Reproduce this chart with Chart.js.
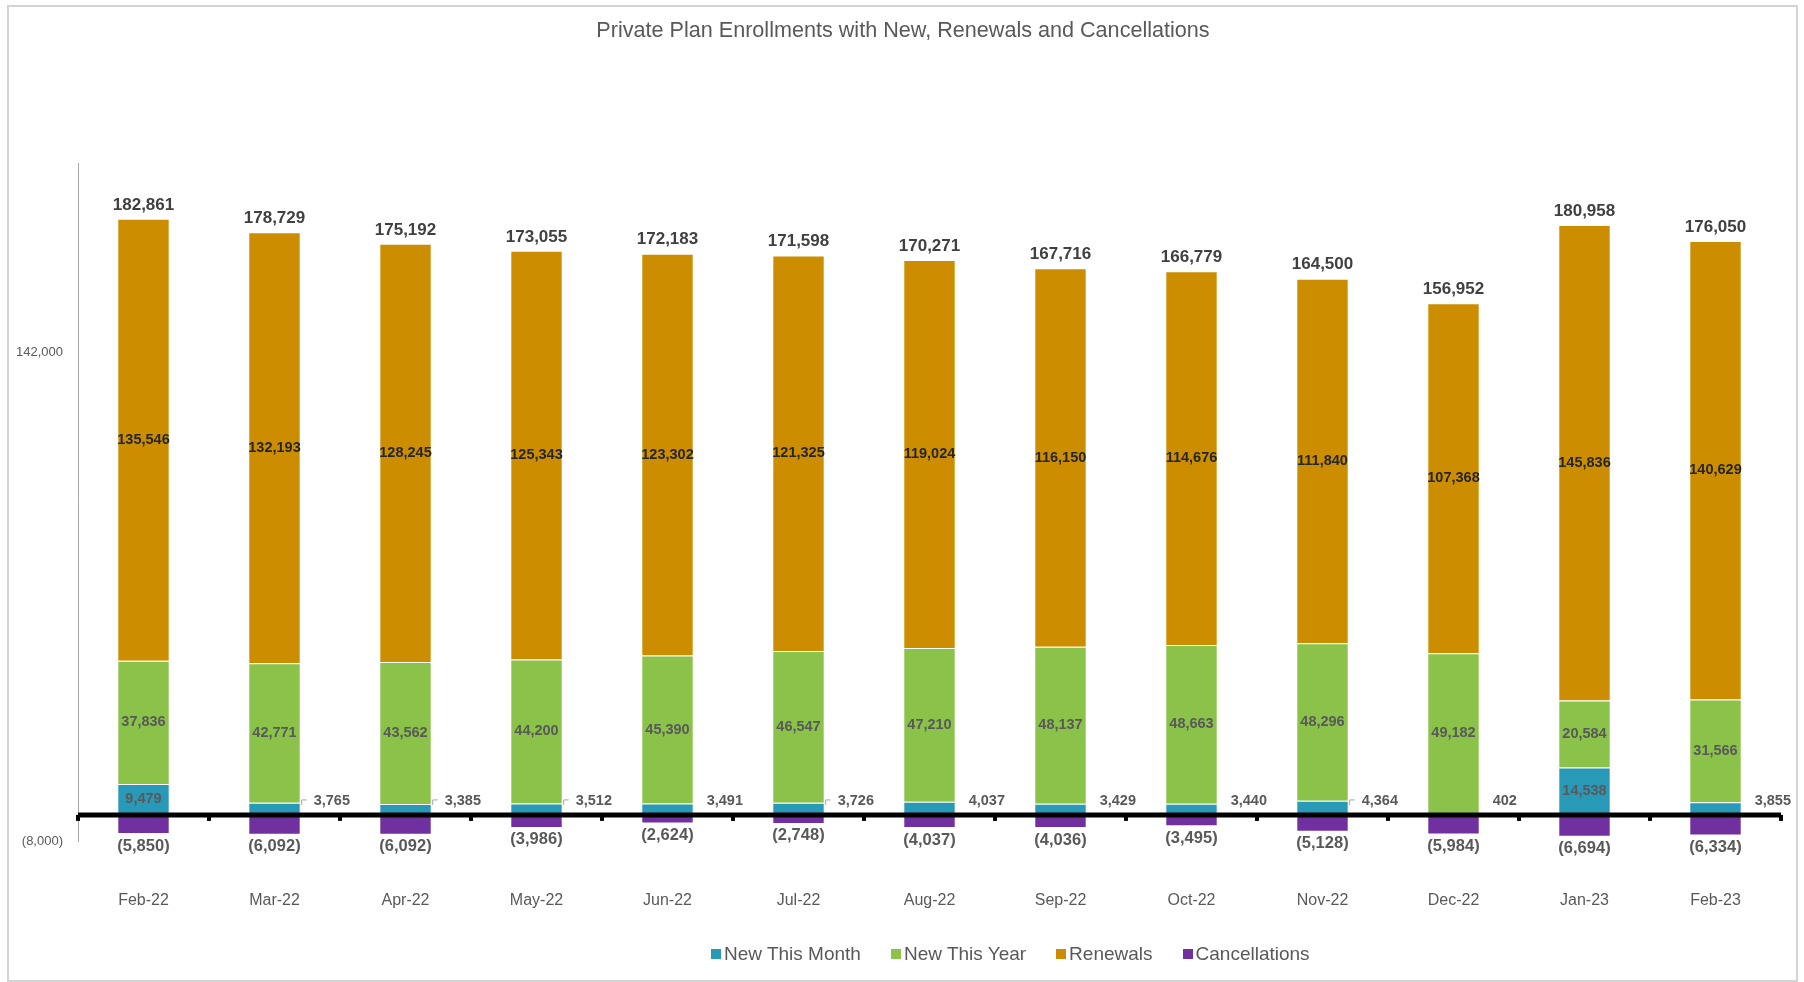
<!DOCTYPE html>
<html lang="en">
<head>
    <meta charset="UTF-8">
    <title>Private Plan Enrollments</title>
    <script src="https://cdn.jsdelivr.net/npm/chart.js"></script>
    <style>
        body { margin: 0; background: #fff; }
        .moldura { position: absolute; left: 7px; top: 5px; width: 1787px; height: 973px; border: 2px solid #d4d4d4; }
        .grafico { position: absolute; left: 0; top: 0; width: 1804px; height: 982px; }
        .titulografico { position: absolute; top: 17px; left: 0; width: 1806px; margin: 0; text-align: center;
                         font: normal 21.6px/25px "Liberation Sans", Arial, sans-serif; color: #595959; }
        #legenda { position: absolute; top: 943px; left: 711px; display: flex; align-items: center;
                   font: 19px "Liberation Sans", Arial, sans-serif; color: #595959; }
        #legenda .item { display: flex; align-items: center; margin-right: 30px; }
        #legenda .caixa { width: 10px; height: 10px; margin-right: 3px; }
    </style>
</head>
<body>
    <div class="moldura"></div>
    <div class="grafico">
        <canvas id="myChart" width="1804" height="982"></canvas>
    </div>
    <h1 class="titulografico">Private Plan Enrollments with New, Renewals and Cancellations</h1>
    <div id="legenda"></div>

<script>
const meses = ['Feb-22', 'Mar-22', 'Apr-22', 'May-22', 'Jun-22', 'Jul-22', 'Aug-22',
               'Sep-22', 'Oct-22', 'Nov-22', 'Dec-22', 'Jan-23', 'Feb-23'];
const novosMes = [9479, 3765, 3385, 3512, 3491, 3726, 4037, 3429, 3440, 4364, 402, 14538, 3855];
const novosAno = [37836, 42771, 43562, 44200, 45390, 46547, 47210, 48137, 48663, 48296, 49182, 20584, 31566];
const renovacoes = [135546, 132193, 128245, 125343, 123302, 121325, 119024, 116150, 114676, 111840, 107368, 145836, 140629];
const cancelamentos = [-5850, -6092, -6092, -3986, -2624, -2748, -4037, -4036, -3495, -5128, -5984, -6694, -6334];
const ticksY = [-8000, 142000];

const fonte = '"Liberation Sans", Arial, sans-serif';
Chart.defaults.font.family = fonte;
Chart.defaults.color = '#595959';

function formata(v) {
    const s = Math.abs(v).toLocaleString('en-US');
    return v < 0 ? '(' + s + ')' : s;
}

// meses em que o rotulo pequeno tem linha de chamada
const comLinha = [1, 2, 3, 5, 9];

const rotulos = {
    id: 'rotulos',
    afterDatasetsDraw(chart) {
        const { ctx, scales: { x, y }, chartArea } = chart;
        const zero = y.getPixelForValue(0);
        ctx.save();

        // linha do zero com marcas entre categorias
        ctx.strokeStyle = '#000';
        ctx.lineWidth = 5;
        ctx.beginPath();
        ctx.moveTo(chartArea.left, zero);
        ctx.lineTo(chartArea.right, zero);
        ctx.stroke();
        ctx.lineWidth = 4;
        for (let i = 0; i <= meses.length; i++) {
            let px;
            if (i === 0) px = chartArea.left;
            else if (i === meses.length) px = chartArea.right;
            else px = (x.getPixelForValue(i - 1) + x.getPixelForValue(i)) / 2;
            ctx.beginPath();
            ctx.moveTo(px, zero);
            ctx.lineTo(px, zero + 6);
            ctx.stroke();
        }

        const m0 = chart.getDatasetMeta(0).data;
        const m1 = chart.getDatasetMeta(1).data;
        const m2 = chart.getDatasetMeta(2).data;
        const m3 = chart.getDatasetMeta(3).data;

        for (let i = 0; i < meses.length; i++) {
            // novos no mes
            const b0 = m0[i];
            ctx.font = 'bold 14.5px ' + fonte;
            ctx.fillStyle = '#595959';
            ctx.textBaseline = 'middle';
            if (novosMes[i] > 8000) {
                ctx.textAlign = 'center';
                ctx.fillText(formata(novosMes[i]), b0.x, (b0.y + b0.base) / 2);
            } else {
                const dir = b0.x + b0.width / 2;
                const alt = zero - 14;
                if (comLinha.includes(i)) {
                    ctx.strokeStyle = '#a6a6a6';
                    ctx.lineWidth = 1;
                    ctx.beginPath();
                    ctx.moveTo(dir + 1, Math.max(b0.y, alt + 4));
                    ctx.lineTo(dir + 1, alt - 1);
                    ctx.lineTo(dir + 6, alt - 1);
                    ctx.stroke();
                }
                ctx.textAlign = 'left';
                ctx.fillText(formata(novosMes[i]), dir + 13, alt);
            }

            // novos no ano
            const b1 = m1[i];
            ctx.textAlign = 'center';
            ctx.fillText(formata(novosAno[i]), b1.x, (b1.y + b1.base) / 2);

            // renovacoes
            const b2 = m2[i];
            ctx.fillStyle = '#262626';
            ctx.fillText(formata(renovacoes[i]), b2.x, (b2.y + b2.base) / 2);

            // total positivo em cima
            const total = novosMes[i] + novosAno[i] + renovacoes[i];
            ctx.font = 'bold 17px ' + fonte;
            ctx.fillStyle = '#404040';
            ctx.fillText(formata(total), b2.x, b2.y - 14);

            // cancelamentos embaixo
            const b3 = m3[i];
            ctx.font = 'bold 16.5px ' + fonte;
            ctx.fillStyle = '#595959';
            ctx.fillText(formata(cancelamentos[i]), b3.x, b3.y + 12);
        }
        ctx.restore();
    }
};

const borda = 'rgba(255,255,255,0.55)';
const ctx = document.getElementById('myChart');
const grafico = new Chart(ctx, {
    type: 'bar',
    data: {
        labels: meses,
        datasets: [
            { label: 'New This Month', data: novosMes, backgroundColor: '#2999b8', borderColor: borda, borderWidth: 1 },
            { label: 'New This Year', data: novosAno, backgroundColor: '#8bc24a', borderColor: borda, borderWidth: 1 },
            { label: 'Renewals', data: renovacoes, backgroundColor: '#cc8e00', borderColor: borda, borderWidth: 1 },
            { label: 'Cancellations', data: cancelamentos, backgroundColor: '#7030a0', borderColor: borda, borderWidth: 1 }
        ]
    },
    options: {
        responsive: false,
        animation: false,
        datasets: { bar: { barPercentage: 0.4, categoryPercentage: 1 } },
        layout: { padding: { left: 8, right: 23, top: 163, bottom: 61 } },
        plugins: {
            legend: { display: false },
            tooltip: { enabled: false },
            title: { display: false }
        },
        scales: {
            x: {
                stacked: true,
                grid: { display: false, drawTicks: false },
                border: { display: false },
                ticks: { color: '#595959', font: { size: 16 }, padding: 50 },
                afterFit: s => { s.height = 80; }
            },
            y: {
                stacked: true,
                min: -8000,
                max: 200000,
                grid: { display: false, drawTicks: false },
                border: { display: true, color: '#a6a6a6', width: 1 },
                afterBuildTicks: s => { s.ticks = ticksY.map(v => ({ value: v })); },
                afterFit: s => { s.width = 70; },
                ticks: { color: '#595959', font: { size: 13 }, padding: 15, callback: v => formata(v) }
            }
        }
    },
    plugins: [rotulos]
});

// legenda em html
const legenda = document.getElementById('legenda');
grafico.data.datasets.forEach(ds => {
    legenda.innerHTML += `<div class="item"><span class="caixa" style="background:${ds.backgroundColor}"></span>${ds.label}</div>`;
});
</script>
</body>
</html>
